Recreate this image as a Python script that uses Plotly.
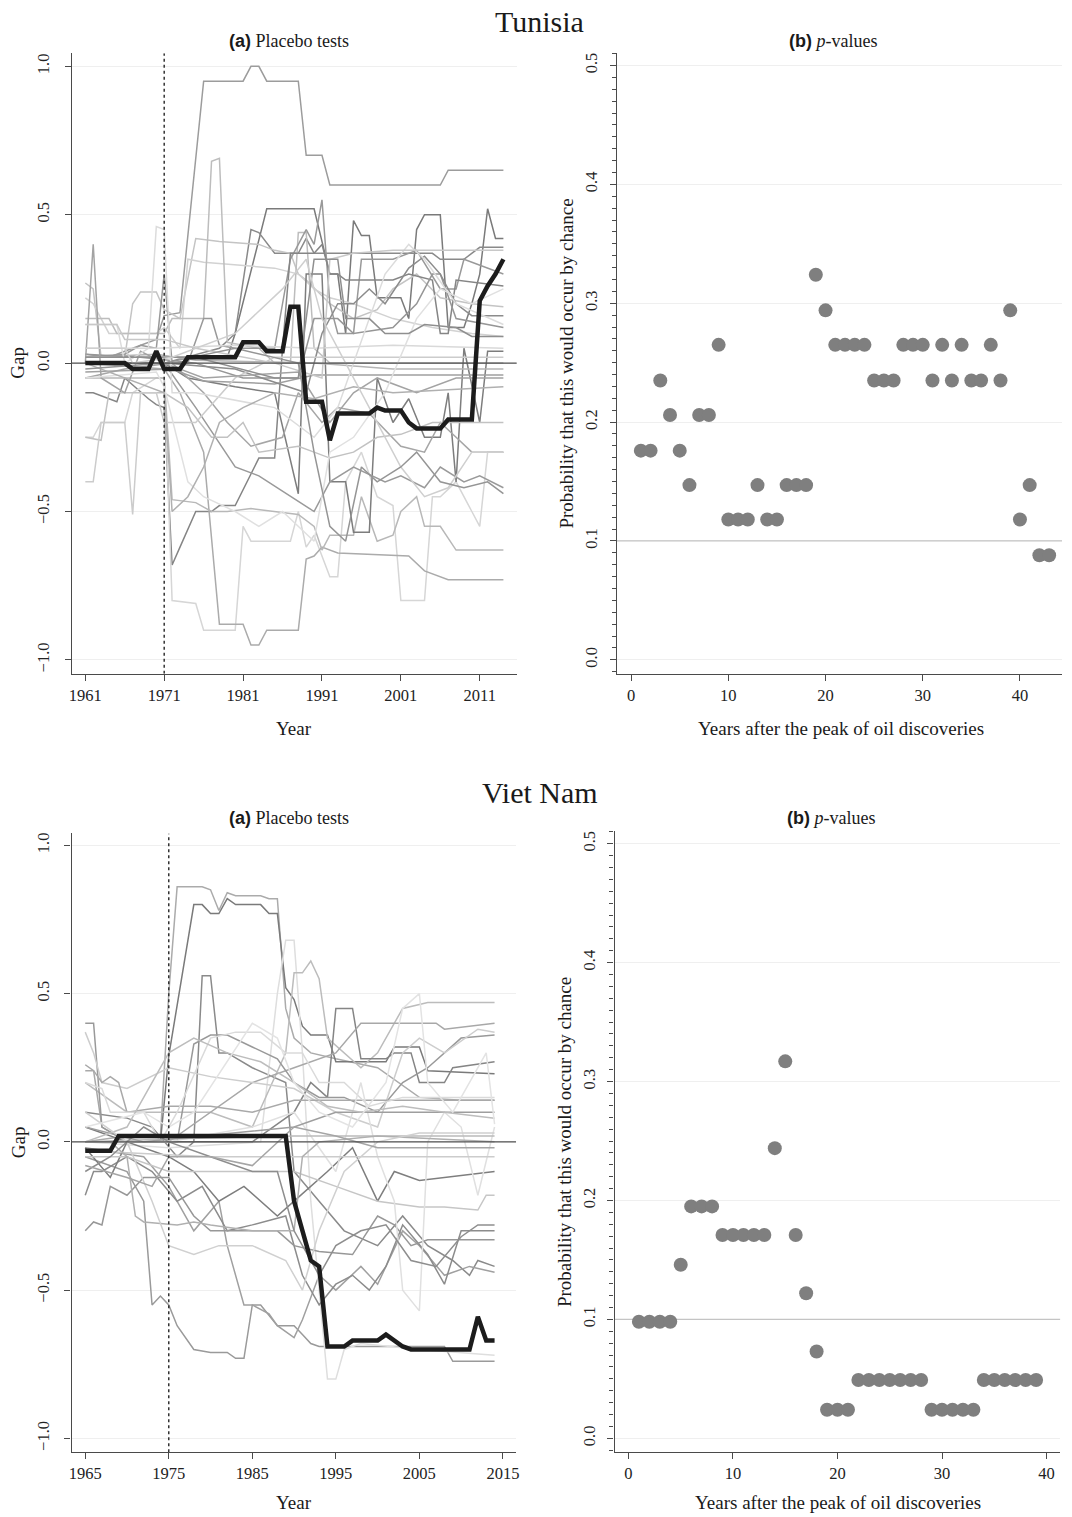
import plotly.graph_objects as go

# ---------------- DATA ----------------
# Tunisia: treated gap (black line), 1961-2014
tun_years = list(range(1961, 2015))
tun_gap = [0.0, 0.0, 0.0, 0.0, 0.0, 0.0, -0.02, -0.02, -0.02, 0.04,
           -0.02, -0.02, -0.02, 0.02, 0.02, 0.02, 0.02, 0.02, 0.02, 0.02,
           0.07, 0.07, 0.07, 0.04, 0.04, 0.04, 0.19, 0.19, -0.13, -0.13,
           -0.13, -0.26, -0.17, -0.17, -0.17, -0.17, -0.17, -0.15, -0.16, -0.16,
           -0.16, -0.20, -0.22, -0.22, -0.22, -0.22, -0.19, -0.19, -0.19, -0.19,
           0.21, 0.26, 0.30, 0.35]

# Tunisia placebo lines (breakpoint years / gaps / grey shade)
tun_placebo_years = [
    [1961,1964,1967,1970,1971,1973,1976,1981,1982,1983,1984,1988,1989,1991,1992,2006,2007,2014],
    [1961,1971,1979,1980,1984,1990,1992,1993,1994,1995,1996,1997,1998,2001,2002,2003,2004,2006,2007,2009,2010,2011,2012,2013,2014],
    [1961,1971,1978,1980,1982,1983,1985,1988,1989,1990,2005,2006,2009,2010,2011,2014],
    [1961,1962,1963,1966,1967,1968,1970,1971,1973,1975,1978,1983,1985,1987,1988,1989,1992,1995,1998,2000,2003,2006,2010,2014],
    [1961,1962,1963,1964,1970,1971,1973,1974,1976,1981,1985,1988,1990,1992,1995,2000,2005,2010,2014],
    [1961,1964,1965,1971,1972,1976,1977,1978,1979,1983,1985,1987,1988,1989,1990,1992,2014],
    [1961,1966,1968,1970,1971,1972,1974,1976,1977,1978,1980,1985,1987,1989,1990,1991,1992,1993,1995,1996,2000,2003,2006,2008,2009,2014],
    [1961,1962,1965,1966,1969,1970,1971,1972,1973,1975,1977,1978,1980,1983,1985,1986,1987,1990,1991,1992,1993,1994,2000,2002,2005,2006,2007,2008,2014],
    [1961,1962,1963,1966,1967,1970,1971,1972,1975,1976,1980,1981,1982,1987,1988,1989,1990,1991,1992,1993,1994,1996,1998,2000,2001,2004,2005,2006,2008,2010,2011,2012,2014],
    [1961,1971,1973,1976,1978,1981,1982,1983,1984,1988,1989,1990,1991,1992,1993,2002,2004,2007,2014],
    [1961,1971,1972,1975,1977,1979,1982,1985,1988,1990,1991,1992,1995,1996,1998,2000,2001,2003,2004,2006,2008,2014],
    [1961,1971,1974,1980,1985,1988,1989,1991,1992,1994,1995,1997,1998,2000,2002,2004,2006,2007,2008,2009,2011,2012,2014],
    [1961,1971,1975,1980,1983,1987,1990,1992,1995,1999,2001,2004,2006,2009,2011,2014],
    [1961,1966,1972,1976,1979,1982,1986,1988,1991,1993,1997,2001,2004,2006,2008,2010,2014],
    [1961,1963,1964,1971,1974,1977,1979,1981,1983,1988,1990,1992,1995,1998,2001,2005,2014],
    [1961,1970,1975,1990,2000,2014],
    [1961,1972,1976,1985,1990,2014],
    [1961,1970,1980,1990,2000,2014],
    [1961,1968,1975,1981,1988,1990,1993,1995,2000,2003,2005,2006,2008,2014],
    [1961,1971,1980,1989,1991,1993,1995,1997,1999,2002,2004,2006,2008,2010,2014],
    [1961,1962,1963,1966,1967,1968,1970,1971,1975,1980,1985,2014],
    [1961,1962,1963,1966,1968,1971,1976,1988,1992,1995,1998,2003,2008,2014],
    [1961,1965,1966,1969,1970,1971,1972,1975,1985,1990,1993,1999,2002,2004,2008,2014],
    [1961,1965,1966,1971,1975,1985,1991,1992,1995,2000,2005,2014],
    [1961,1970,1971,1974,1976,1980,1983,1986,1990,1992,1995,1999,2003,2006,2010,2014],
    [1961,1975,1985,1988,1990,1993,1994,1997,1999,2002,2004,2008,2010,2014],
    [1961,1971,1972,1974,1976,1978,1981,1985,1990,1995,2000,2014],
    [1961,1966,1967,1972,1980,1986,1989,1991,1994,1998,2001,2004,2007,2010,2014],
    [1961,1971,1980,1988,1990,1992,1994,1996,1998,2001,2003,2006,2009,2012,2014],
]
tun_placebo_gaps = [
    [0.03,0.02,0.05,0.08,0.16,0.17,0.95,0.95,1.0,1.0,0.95,0.95,0.70,0.70,0.60,0.60,0.65,0.65],
    [0.02,0.02,0.02,0.10,0.52,0.52,0.30,0.30,0.10,0.48,0.43,0.43,0.22,0.22,0.15,0.45,0.50,0.50,0.12,0.12,0.20,0.30,0.52,0.42,0.42],
    [0.0,0.0,0.05,0.10,0.45,0.44,0.37,0.37,0.42,0.37,0.37,0.35,0.35,0.37,0.39,0.39],
    [0.27,0.25,0.02,0.02,0.20,0.24,0.24,0.18,0.15,0.42,0.41,0.40,0.38,0.37,0.30,0.28,0.20,0.15,0.18,0.25,0.30,0.22,0.20,0.19],
    [0.22,0.20,0.15,0.10,0.10,0.12,0.05,0.35,0.34,0.33,0.32,0.30,0.25,0.22,0.20,0.15,0.12,0.10,0.09],
    [0.15,0.15,0.10,0.10,0.15,0.15,0.68,0.69,0.07,0.05,0.0,0.0,0.44,0.44,0.05,0.0,0.0],
    [0.02,0.03,0.06,0.05,0.30,0.0,0.0,0.15,0.15,0.06,0.05,0.05,0.35,0.45,0.40,0.55,0.20,0.10,0.10,0.35,0.35,0.38,0.25,0.25,0.35,0.30],
    [-0.10,-0.10,-0.13,-0.05,-0.12,-0.14,-0.15,-0.68,-0.62,-0.50,-0.50,-0.48,-0.48,-0.32,-0.32,0.05,0.37,0.37,0.40,0.30,0.30,0.28,0.28,0.30,0.28,0.10,0.10,0.28,0.26],
    [-0.25,-0.25,-0.20,-0.20,-0.10,-0.05,-0.05,-0.80,-0.81,-0.90,-0.90,-0.55,-0.60,-0.60,-0.50,-0.62,-0.58,-0.65,-0.72,-0.72,-0.40,-0.30,-0.45,-0.48,-0.80,-0.80,-0.45,-0.45,-0.40,-0.50,-0.55,-0.30,-0.30],
    [0.0,-0.02,-0.10,-0.30,-0.88,-0.88,-0.95,-0.95,-0.90,-0.90,-0.66,-0.65,-0.62,-0.63,-0.64,-0.65,-0.70,-0.73,-0.73],
    [-0.05,-0.05,-0.46,-0.47,-0.50,-0.50,-0.49,-0.50,-0.51,-0.55,-0.63,-0.58,-0.58,-0.45,-0.60,-0.58,-0.50,-0.45,-0.55,-0.55,-0.63,-0.63],
    [0.0,0.0,-0.05,-0.08,-0.10,-0.44,0.30,0.30,-0.40,-0.40,-0.57,-0.57,-0.05,-0.20,-0.12,-0.25,-0.25,-0.10,-0.40,0.05,-0.20,0.04,0.04],
    [0.0,0.0,-0.15,-0.35,-0.38,-0.45,-0.50,-0.40,-0.35,-0.40,-0.38,-0.42,-0.35,-0.40,-0.38,-0.42],
    [-0.05,-0.02,0.0,-0.10,-0.20,-0.28,-0.25,-0.10,-0.20,-0.15,-0.17,-0.28,-0.30,-0.20,-0.25,-0.30,-0.30],
    [-0.25,-0.26,-0.10,-0.10,-0.15,-0.25,-0.25,-0.20,-0.30,-0.28,-0.30,-0.32,-0.30,-0.25,-0.24,-0.20,-0.20],
    [0.02,0.03,0.01,0.0,-0.02,-0.02],
    [-0.03,-0.02,-0.06,-0.07,-0.04,-0.04],
    [0.05,0.05,0.06,0.05,0.06,0.05],
    [0.03,0.02,0.0,-0.05,-0.05,0.15,0.15,0.10,0.12,0.20,0.30,0.30,0.15,0.12],
    [0.0,0.0,-0.02,-0.10,0.10,0.20,0.20,0.25,0.20,0.32,0.36,0.30,0.20,0.16,0.16],
    [-0.40,-0.40,-0.20,-0.20,-0.51,-0.10,-0.10,-0.20,-0.20,-0.05,0.02,0.02],
    [0.0,0.40,-0.05,-0.10,0.04,0.0,-0.05,-0.03,-0.20,-0.10,-0.05,-0.10,-0.05,-0.05],
    [0.13,0.13,0.0,0.05,0.46,0.45,-0.10,-0.10,-0.15,-0.25,-0.15,0.30,0.40,0.35,0.20,0.13],
    [0.13,0.13,0.08,0.08,0.05,0.0,-0.05,0.35,0.37,0.38,0.38,0.38],
    [-0.05,-0.03,-0.08,-0.40,-0.45,-0.50,-0.55,-0.50,-0.60,-0.30,-0.25,-0.10,0.15,0.25,0.20,0.25],
    [0.02,0.02,-0.05,-0.05,0.35,0.35,0.15,0.15,0.10,0.10,0.13,0.12,0.09,0.09],
    [0.0,-0.10,-0.50,-0.45,-0.35,-0.20,-0.15,-0.10,-0.12,-0.08,-0.10,-0.08],
    [0.05,0.05,0.0,0.02,0.10,0.25,0.35,0.15,0.0,-0.20,-0.35,-0.45,-0.42,-0.30,-0.30],
    [-0.02,0.0,0.05,0.0,-0.30,-0.55,-0.60,-0.35,-0.40,-0.35,-0.30,-0.40,-0.42,-0.40,-0.44],
]
tun_placebo_greys = ["#9c9c9c", "#7a7a7a", "#8a8a8a", "#c4c4c4", "#d2d2d2", "#bdbdbd",
                     "#999999", "#858585", "#d6d6d6", "#ababab", "#b8b8b8", "#7d7d7d",
                     "#9a9a9a", "#a6a6a6", "#c2c2c2", "#b5b5b5", "#a0a0a0", "#d9d9d9",
                     "#969696", "#8c8c8c", "#cccccc", "#a3a3a3", "#dcdcdc",
                     "#c8c8c8", "#e0e0e0", "#8f8f8f", "#b0b0b0", "#cfcfcf", "#959595"]

# Tunisia p-values
tun_p_years = list(range(1, 44))
tun_p_values = [0.176, 0.176, 0.235, 0.206, 0.176, 0.147, 0.206, 0.206, 0.265, 0.118,
                0.118, 0.118, 0.147, 0.118, 0.118, 0.147, 0.147, 0.147, 0.324, 0.294,
                0.265, 0.265, 0.265, 0.265, 0.235, 0.235, 0.235, 0.265, 0.265, 0.265,
                0.235, 0.265, 0.235, 0.265, 0.235, 0.235, 0.265, 0.235, 0.294, 0.118,
                0.147, 0.088, 0.088]

# Viet Nam: treated gap, 1965-2014
vnm_years = list(range(1965, 2015))
vnm_gap = [-0.03, -0.03, -0.03, -0.03, 0.02, 0.02, 0.02, 0.02, 0.02, 0.02,
           0.02, 0.02, 0.02, 0.02, 0.02, 0.02, 0.02, 0.02, 0.02, 0.02,
           0.02, 0.02, 0.02, 0.02, 0.02, -0.20, -0.30, -0.40, -0.42, -0.69,
           -0.69, -0.69, -0.67, -0.67, -0.67, -0.67, -0.65, -0.67, -0.69, -0.70,
           -0.70, -0.70, -0.70, -0.70, -0.70, -0.70, -0.70, -0.59, -0.67, -0.67]

vnm_placebo_years = [
    [1965,1970,1974,1975,1976,1979,1980,1981,1982,1983,1986,1987,1988,1989,1990,1992,1995,2000,2005,2010,2014],
    [1965,1970,1974,1975,1978,1979,1980,1981,1982,1983,1986,1987,1988,1989,1990,1991,1992,1994,1995,2001,2002,2005,2006,2014],
    [1965,1970,1973,1976,1978,1979,1980,1981,1982,1985,1989,1990,1993,1996,2000,2003,2006,2009,2011,2012,2014],
    [1965,1970,1972,1973,1974,1975,1976,1978,1980,1982,1983,1984,1985,1986,1988,1990,1991,1992,1993,2008,2009,2014],
    [1965,1972,1975,1978,1981,1982,1984,1985,1987,1988,1990,1991,1993,1995,1998,2000,2003,2005,2008,2011,2014],
    [1965,1975,1986,1988,1989,1990,1991,1992,1993,1994,1995,1996,1998,2005,2014],
    [1965,1970,1975,1980,1985,1989,1990,1991,1992,1993,1994,1996,1998,2000,2002,2003,2006,2014],
    [1965,1975,1985,1990,1992,1994,1995,1997,1998,2001,2002,2004,2005,2008,2009,2014],
    [1965,1966,1967,1970,1975,1980,1985,1990,1995,1998,2007,2008,2014],
    [1965,1966,1967,1970,1976,1978,1980,1982,1985,1988,1990,1993,1996,2000,2003,2006,2010,2014],
    [1965,1966,1967,1970,1975,1980,1985,1990,1995,2000,2003,2005,2008,2012,2014],
    [1965,1966,1967,1968,1969,1970,1975,1980,1985,1990,1995,2014],
    [1965,1967,1968,1972,1974,1976,1980,1983,1986,1989,1991,1993,1996,1999,2003,2014],
    [1965,1966,1967,1970,1973,1976,1979,1982,1985,1989,1991,1993,1995,1997,1999,2001,2003,2006,2008,2010,2012,2014],
    [1965,1966,1967,1968,1970,1972,1975,1978,1980,1985,1988,1990,1993,1997,2000,2002,2004,2006,2009,2014],
    [1965,1968,1970,1975,1978,1981,1984,1988,1990,1994,1997,2000,2002,2005,2014],
    [1965,1970,1975,1980,1985,1990,1995,2000,2005,2008,2012,2013,2014],
    [1965,1975,1985,1990,1995,1998,2000,2002,2003,2005,2006,2008,2010,2012,2014],
    [1965,1975,1990,2000,2014],
    [1965,1972,1990,1995,2014],
    [1965,1980,2014],
    [1965,1968,1970,1971,1972,1976,1978,1980,1985,1990,1991,1993,2000,2014],
    [1965,1970,1975,1978,1982,1986,1990,1994,1998,2003,2008,2014],
    [1965,1970,1973,1975,1978,1981,1985,1989,1991,1993,1996,2000,2005,2014],
    [1965,1968,1972,1975,1980,1985,1988,1990,1993,1995,1998,2001,2004,2007,2010,2012,2014],
    [1965,1972,1975,1978,1985,1988,1990,1993,1997,2001,2003,2005,2006,2009,2013,2014],
    [1965,1970,1973,1975,1980,1985,1990,1995,2000,2014],
]
vnm_placebo_gaps = [
    [0.0,0.02,0.02,0.50,0.86,0.86,0.85,0.78,0.84,0.83,0.83,0.82,0.82,0.45,0.35,0.30,0.28,0.25,0.15,0.14,0.14],
    [0.05,0.0,0.0,0.29,0.80,0.80,0.77,0.77,0.82,0.80,0.80,0.77,0.77,0.52,0.48,0.39,0.36,0.36,0.27,0.27,0.32,0.32,0.24,0.23],
    [0.10,0.08,0.05,-0.05,0.0,0.56,0.56,0.30,0.30,0.25,0.20,-0.10,-0.20,-0.30,-0.35,-0.25,-0.35,-0.40,-0.45,-0.40,-0.42],
    [-0.05,-0.10,-0.20,-0.55,-0.52,-0.55,-0.62,-0.70,-0.71,-0.71,-0.73,-0.73,-0.55,-0.55,-0.62,-0.62,-0.65,-0.68,-0.69,-0.69,-0.74,-0.74],
    [-0.02,-0.05,-0.15,-0.30,-0.20,-0.35,-0.55,-0.55,-0.58,-0.62,-0.66,-0.60,-0.45,-0.50,-0.42,-0.48,-0.30,-0.35,-0.45,-0.42,-0.44],
    [0.0,-0.02,0.0,0.50,0.68,0.68,0.30,-0.20,-0.50,-0.80,-0.80,-0.70,-0.68,-0.70,-0.72],
    [0.20,0.10,0.10,0.10,0.05,0.30,0.57,0.57,0.61,0.55,0.35,0.30,0.25,0.30,0.40,0.45,0.47,0.47],
    [0.0,0.0,0.0,0.10,0.20,0.15,0.45,0.45,0.28,0.28,0.30,0.30,0.20,0.20,0.25,0.27],
    [0.26,0.24,0.05,0.0,0.0,0.10,0.20,0.25,0.30,0.40,0.40,0.38,0.40],
    [0.40,0.40,0.05,0.0,0.0,0.33,0.36,0.36,0.32,0.28,0.20,0.15,0.15,0.10,0.20,0.25,0.35,0.36],
    [0.37,0.30,0.20,0.18,0.25,0.22,0.20,0.18,0.10,0.05,0.30,0.35,0.30,0.38,0.37],
    [0.24,0.24,0.20,0.22,0.20,0.10,0.12,0.12,0.10,0.14,0.14,0.14],
    [0.20,0.18,0.10,0.10,0.0,0.10,0.35,0.37,0.37,0.30,0.30,0.20,0.20,0.12,0.15,0.15],
    [-0.18,-0.10,-0.10,-0.05,-0.10,-0.20,-0.15,-0.30,-0.28,-0.25,-0.45,-0.55,-0.48,-0.45,-0.50,-0.42,-0.28,-0.38,-0.48,-0.30,-0.30,-0.30],
    [-0.30,-0.27,-0.28,-0.15,-0.18,-0.12,-0.12,-0.25,-0.30,-0.30,-0.30,-0.35,-0.37,-0.38,-0.25,-0.28,-0.35,-0.33,-0.33,-0.33],
    [-0.02,-0.12,0.0,-0.05,-0.10,-0.20,-0.15,-0.25,-0.20,-0.10,-0.02,-0.20,-0.10,-0.13,-0.10],
    [-0.05,-0.05,-0.10,-0.10,-0.10,-0.10,-0.15,-0.20,-0.22,-0.22,-0.23,-0.18,-0.18],
    [0.0,0.0,0.05,0.10,-0.10,0.20,-0.05,-0.20,-0.50,-0.57,0.0,0.10,0.05,-0.18,0.05],
    [0.0,0.01,0.02,0.02,0.02],
    [0.05,0.0,0.05,0.10,0.10],
    [-0.03,-0.05,-0.05],
    [0.0,0.0,-0.05,-0.25,-0.27,-0.28,-0.27,-0.28,-0.30,-0.30,-0.05,0.0,0.02,0.0],
    [0.0,0.05,0.30,0.35,0.30,0.27,0.20,0.12,0.10,0.12,0.10,0.08],
    [0.10,0.0,-0.20,-0.35,-0.38,-0.35,-0.35,-0.40,-0.50,-0.30,-0.10,0.0,0.03,0.03],
    [-0.10,-0.05,0.05,0.0,-0.05,-0.10,-0.10,-0.30,-0.45,-0.35,-0.30,-0.28,-0.40,-0.42,-0.32,-0.28,-0.28],
    [0.05,0.10,0.05,0.10,0.40,0.35,0.20,0.10,0.05,0.20,0.45,0.50,0.20,0.10,0.30,0.06],
    [-0.08,-0.12,-0.15,-0.05,-0.05,-0.08,0.05,0.02,-0.02,-0.02],
]
vnm_placebo_greys = ["#ababab", "#7a7a7a", "#8a8a8a", "#9a9a9a", "#a0a0a0", "#dedede",
                     "#bcbcbc", "#858585", "#a8a8a8", "#999999", "#cdcdcd", "#a9a9a9",
                     "#dadada", "#8c8c8c", "#979797", "#7e7e7e", "#c6c6c6", "#e0e0e0",
                     "#bbbbbb", "#9e9e9e", "#cccccc", "#b0b0b0",
                     "#bdbdbd", "#d0d0d0", "#8e8e8e", "#e3e3e3", "#a5a5a5"]

vnm_p_years = list(range(1, 40))
vnm_p_values = [0.098, 0.098, 0.098, 0.098, 0.146, 0.195, 0.195, 0.195, 0.171, 0.171,
                0.171, 0.171, 0.171, 0.244, 0.317, 0.171, 0.122, 0.073, 0.024, 0.024,
                0.024, 0.049, 0.049, 0.049, 0.049, 0.049, 0.049, 0.049, 0.024, 0.024,
                0.024, 0.024, 0.024, 0.049, 0.049, 0.049, 0.049, 0.049, 0.049]

tun_peak_year = 1971
vnm_peak_year = 1975

gap_ticks = [-1.0, -0.5, 0.0, 0.5, 1.0]
gap_ticktext = ["\u22121.0", "\u22120.5", "0.0", "0.5", "1.0"]
tun_xticks = [1961, 1971, 1981, 1991, 2001, 2011]
vnm_xticks = [1965, 1975, 1985, 1995, 2005, 2015]
p_xticks = [0, 10, 20, 30, 40]

# ---------------- FIGURE ----------------
W, H = 1072, 1517
SERIF = "Liberation Serif"
AXC = "#4a4a4a"

tun_xrange = [1959.3, 2015.7]
vnm_xrange = [1963.37, 2016.58]
gap_yrange_t = [-1.047, 1.044]
gap_yrange_v = [-1.047, 1.040]
p_yrange = [-0.0118, 0.5103]
tun_pxrange = [-1.47, 44.33]
vnm_pxrange = [-1.33, 41.32]

fig = go.Figure()


def add_placebo(xa, ya, years_list, gaps_list, greys, years, gap, peak, xrange, yrange):
    for yrs, gps, col in zip(years_list, gaps_list, greys):
        fig.add_trace(go.Scatter(x=yrs, y=gps, mode="lines", xaxis=xa, yaxis=ya,
                                 line=dict(color=col, width=1.5), showlegend=False,
                                 hoverinfo="skip"))
    # zero reference line
    fig.add_trace(go.Scatter(x=xrange, y=[0, 0], mode="lines", xaxis=xa, yaxis=ya,
                             line=dict(color="#505050", width=1.3), showlegend=False,
                             hoverinfo="skip"))
    # peak of discoveries
    fig.add_trace(go.Scatter(x=[peak, peak], y=yrange, mode="lines", xaxis=xa, yaxis=ya,
                             line=dict(color="#333333", width=1.5, dash="dot"),
                             showlegend=False, hoverinfo="skip"))
    fig.add_trace(go.Scatter(x=years, y=gap, mode="lines", xaxis=xa, yaxis=ya,
                             line=dict(color="#1c1c1c", width=4.5), showlegend=False))


def add_pvals(xa, ya, xs, ps, xrange):
    fig.add_trace(go.Scatter(x=xrange, y=[0.1, 0.1], mode="lines", xaxis=xa, yaxis=ya,
                             line=dict(color="#c4c4c4", width=1.3), showlegend=False,
                             hoverinfo="skip"))
    fig.add_trace(go.Scatter(x=xs, y=ps, mode="markers", xaxis=xa, yaxis=ya,
                             marker=dict(color="#7f7f7f", size=14, line=dict(width=0)),
                             showlegend=False))


add_placebo("x", "y", tun_placebo_years, tun_placebo_gaps, tun_placebo_greys,
            tun_years, tun_gap, tun_peak_year, tun_xrange, gap_yrange_t)
add_pvals("x2", "y2", tun_p_years, tun_p_values, tun_pxrange)
add_placebo("x3", "y3", vnm_placebo_years, vnm_placebo_gaps, vnm_placebo_greys,
            vnm_years, vnm_gap, vnm_peak_year, vnm_xrange, gap_yrange_v)
add_pvals("x4", "y4", vnm_p_years, vnm_p_values, vnm_pxrange)


def px_x(a, b):
    return [a / W, b / W]


def px_y(top, bottom):
    return [1 - bottom / H, 1 - top / H]


base_axis = dict(showline=True, linecolor=AXC, linewidth=1.3, ticks="outside",
                 ticklen=6, tickwidth=1.2, tickcolor=AXC, zeroline=False,
                 tickfont=dict(family=SERIF, size=16.5, color="#222222"), fixedrange=True)

xgrid = dict(showgrid=False)
ygrid = dict(showgrid=True, gridcolor="#efefef", gridwidth=1.3)
minor = dict(tickmode="linear", tick0=0, dtick=0.01, ticks="outside", ticklen=4,
             tickwidth=1.1, tickcolor=AXC, showgrid=False)
p_yaxis = dict(tickmode="linear", tick0=0, dtick=0.1, tickformat=".1f",
               tickangle=-90, ticklabelstandoff=6, minor=minor)

fig.update_layout(
    width=W, height=H, autosize=False,
    margin=dict(l=0, r=0, t=0, b=0),
    paper_bgcolor="white", plot_bgcolor="white",
    xaxis=dict(**base_axis, **xgrid, domain=px_x(69.3, 516.7), range=tun_xrange,
               tickmode="array", tickvals=tun_xticks, anchor="y"),
    yaxis=dict(**base_axis, **ygrid, domain=px_y(52.3, 673.3), range=gap_yrange_t,
               tickmode="array", tickvals=gap_ticks, ticktext=gap_ticktext,
               tickangle=-90, ticklabelstandoff=9, anchor="x"),
    xaxis2=dict(**base_axis, **xgrid, domain=px_x(617.3, 1065), range=tun_pxrange,
                tickmode="array", tickvals=p_xticks, anchor="y2"),
    yaxis2=dict(**base_axis, **ygrid, **p_yaxis, domain=px_y(52.3, 673.3),
                range=p_yrange, anchor="x2"),
    xaxis3=dict(**base_axis, **xgrid, domain=px_x(69, 516), range=vnm_xrange,
                tickmode="array", tickvals=vnm_xticks, anchor="y3"),
    yaxis3=dict(**base_axis, **ygrid, domain=px_y(833, 1452.3), range=gap_yrange_v,
                tickmode="array", tickvals=gap_ticks, ticktext=gap_ticktext,
                tickangle=-90, ticklabelstandoff=9, anchor="x3"),
    xaxis4=dict(**base_axis, **xgrid, domain=px_x(615, 1063.3), range=vnm_pxrange,
                tickmode="array", tickvals=p_xticks, anchor="y4"),
    yaxis4=dict(**base_axis, **ygrid, **p_yaxis, domain=px_y(831, 1452.3),
                range=p_yrange, anchor="x4"),
)


def ann(text, xpx, ypx, size, angle=0):
    fig.add_annotation(text=text, x=xpx / W, y=1 - ypx / H, xref="paper", yref="paper",
                       showarrow=False, xanchor="center", yanchor="middle",
                       textangle=angle,
                       font=dict(family=SERIF, size=size, color="#1a1a1a"))


BOLD_A = "<span style='font-family:Liberation Sans;font-weight:bold'>(a)</span> Placebo tests"
BOLD_B = "<span style='font-family:Liberation Sans;font-weight:bold'>(b)</span> <i>p</i>-values"

ann("Tunisia", 540, 21, 30)
ann(BOLD_A, 288, 40, 18)
ann(BOLD_B, 835, 40, 18)
ann("Gap", 15, 362, 19, -90)
ann("Year", 293, 728, 19)
ann("Probability that this would occur by chance", 567, 363, 19, -90)
ann("Years after the peak of oil discoveries", 843, 728, 19)

ann("Viet Nam", 540, 792, 30)
ann(BOLD_A, 288, 818, 18)
ann(BOLD_B, 833, 818, 18)
ann("Gap", 15, 1142, 19, -90)
ann("Year", 293, 1502, 19)
ann("Probability that this would occur by chance", 564, 1142, 19, -90)
ann("Years after the peak of oil discoveries", 840, 1502, 19)

fig.write_html("out.html")
